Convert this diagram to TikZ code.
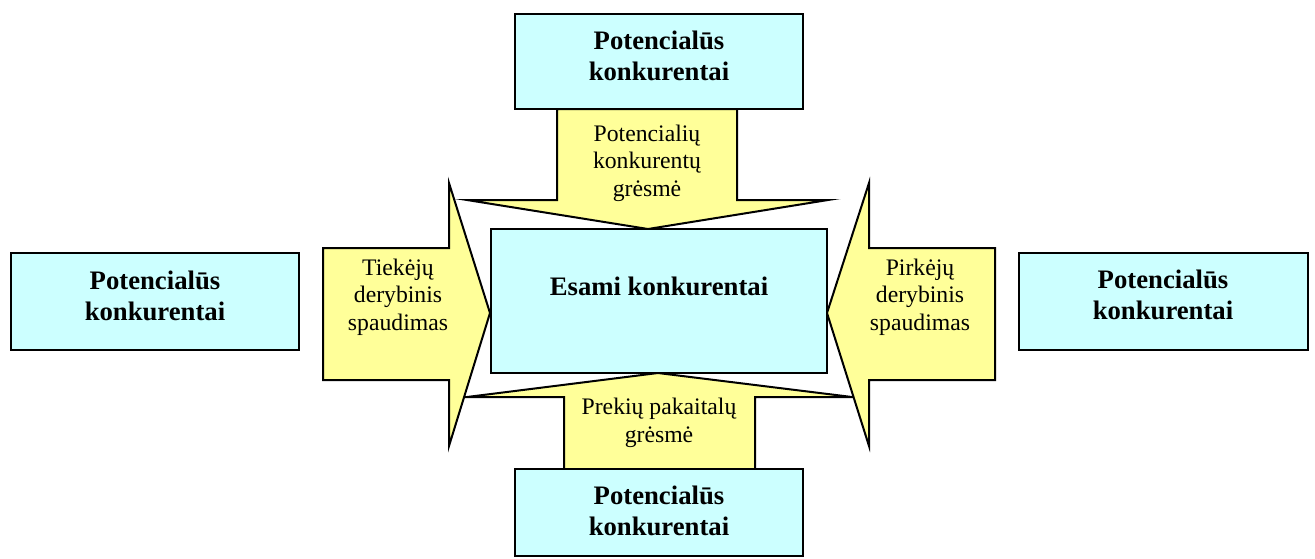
\documentclass[tikz,border=0pt]{standalone}
\usepackage{fontspec}
\setmainfont{Liberation Serif}
\definecolor{boxcyan}{HTML}{CCFFFF}
\definecolor{arrowyellow}{HTML}{FFFF99}
\tikzset{
  cbox/.style={draw=black, line width=2.5pt, fill=boxcyan, rectangle, inner sep=0pt},
  yarrow/.style={draw=black, line width=2pt, fill=arrowyellow, miter limit=20},
  btext/.style={font=\fontsize{26.7}{30.7}\selectfont\bfseries, align=center, inner sep=0pt, anchor=base},
  rtext/.style={font=\fontsize{23.7}{27.5}\selectfont, align=center, inner sep=0pt, anchor=base},
}
\begin{document}
\begin{tikzpicture}[x=1pt,y=-1pt]
\useasboundingbox (0,0) rectangle (1315,558);
% arrows
\draw[yarrow] (557,109) -- (737,109) -- (737,200) -- (828,200) -- (648,229) -- (467,200) -- (557,200) -- cycle;
\draw[yarrow] (564,469) -- (755,469) -- (755,397) -- (852,397) -- (658,373) -- (467,397) -- (564,397) -- cycle;
\draw[yarrow] (323,248) -- (449,248) -- (449,183) -- (490,313) -- (449,446) -- (449,380) -- (323,380) -- cycle;
\draw[yarrow] (995,248) -- (869,248) -- (869,183) -- (827,313) -- (869,446) -- (869,380) -- (995,380) -- cycle;
% boxes
\node[cbox, minimum width=288pt, minimum height=95pt] (top) at (659,61.5) {};
\node[cbox, minimum width=336pt, minimum height=144pt] (center) at (659,301) {};
\node[cbox, minimum width=288pt, minimum height=87pt] (bottom) at (659,512.5) {};
\node[cbox, minimum width=288pt, minimum height=97pt] (left) at (155,301.5) {};
\node[cbox, minimum width=289pt, minimum height=97pt] (right) at (1163.5,301.5) {};
% texts (anchor = baseline of last line)
\node[btext] (toptxt) at (659,80) {Potencialūs\\konkurentai};
\node[btext] (centertxt) at (659,295) {Esami konkurentai};
\node[btext] (bottomtxt) at (659,535) {Potencialūs\\konkurentai};
\node[btext] (lefttxt) at (155,320) {Potencialūs\\konkurentai};
\node[btext] (righttxt) at (1163,319) {Potencialūs\\konkurentai};
\node[rtext] (toparrtxt) at (647,196) {Potencialių\\konkurentų\\grėsmė};
\node[rtext] (leftarrtxt) at (398,330) {Tiekėjų\\derybinis\\spaudimas};
\node[rtext] (rightarrtxt) at (920,330) {Pirkėjų\\derybinis\\spaudimas};
\node[rtext] (bottomarrtxt) at (659,442) {Prekių pakaitalų\\grėsmė};
\end{tikzpicture}
\end{document}
